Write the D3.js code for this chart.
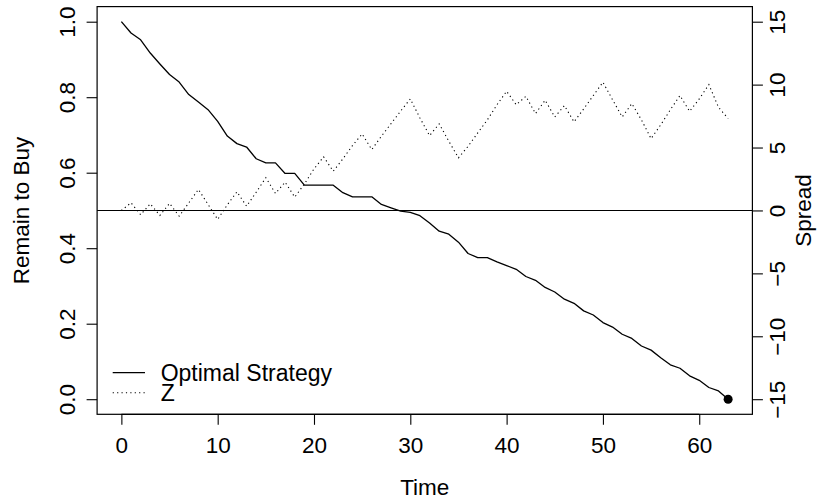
<!DOCTYPE html>
<html>
<head>
<meta charset="utf-8">
<script src="https://cdn.jsdelivr.net/npm/d3@7"></script>
<style>
  html, body { margin: 0; padding: 0; background: #fff; }
  svg text { font-family: "Liberation Sans", Arial, Helvetica, sans-serif; fill: #000; }
</style>
</head>
<body>
<svg id="chart" width="827" height="504"></svg>
<script>
// ---- data ----
const time = d3.range(0, 64);
const optimalStrategy = [
  1.000, 0.970, 0.952, 0.917, 0.888, 0.860, 0.840, 0.807, 0.787, 0.767,
  0.736, 0.697, 0.677, 0.668, 0.637, 0.626, 0.626, 0.598, 0.598, 0.567,
  0.567, 0.567, 0.567, 0.547, 0.536, 0.536, 0.536, 0.516, 0.507, 0.498,
  0.495, 0.486, 0.467, 0.445, 0.437, 0.416, 0.386, 0.375, 0.375, 0.364,
  0.354, 0.344, 0.325, 0.315, 0.296, 0.284, 0.265, 0.254, 0.234, 0.223,
  0.203, 0.191, 0.172, 0.161, 0.141, 0.130, 0.110, 0.091, 0.082, 0.062,
  0.050, 0.031, 0.022, 0.000
];
const spreadZ = [
  0.00, 0.61, -0.34, 0.53, -0.40, 0.56, -0.45, 0.60, 1.67, 0.48,
  -0.71, 0.45, 1.48, 0.34, 1.45, 2.60, 1.35, 2.25, 1.06, 2.10,
  3.30, 4.26, 3.12, 4.10, 5.16, 6.08, 4.84, 5.90, 6.90, 7.90,
  8.86, 7.35, 5.95, 6.88, 5.50, 4.18, 5.10, 6.16, 7.20, 8.40,
  9.47, 8.40, 9.07, 7.70, 8.76, 7.43, 8.33, 7.04, 8.07, 9.13,
  10.19, 8.80, 7.43, 8.49, 7.20, 5.71, 6.80, 8.00, 9.13, 7.88,
  8.86, 10.00, 8.20, 7.30
];
const endPoint = { t: 63, v: 0 };
const xTicks = [0, 10, 20, 30, 40, 50, 60];
const leftTicks = [0, 0.2, 0.4, 0.6, 0.8, 1.0];
const rightTicks = [-15, -10, -5, 0, 5, 10, 15];
const legendLabels = ["Optimal Strategy", "Z"];
const xTitle = "Time", leftTitle = "Remain to Buy", rightTitle = "Spread";

// ---- layout ----
const box = { left: 97.1, right: 752.4, top: 6.6, bottom: 414.3 };
const FS = 22.5;
const svg = d3.select("#chart");

const x = d3.scaleLinear().domain([-2.52, 65.52]).range([box.left, box.right]);
const yL = d3.scaleLinear().domain([-0.04, 1.04]).range([box.bottom, box.top]);
const yR = d3.scaleLinear().domain([-16.2, 16.2]).range([box.bottom, box.top]);

// zero line of Spread
svg.append("line")
  .attr("x1", box.left).attr("x2", box.right)
  .attr("y1", yR(0)).attr("y2", yR(0))
  .attr("stroke", "#000").attr("stroke-width", 1.1);

// Optimal strategy
svg.append("path")
  .datum(time.map((t, i) => [t, optimalStrategy[i]]))
  .attr("fill", "none").attr("stroke", "#000").attr("stroke-width", 1.3)
  .attr("stroke-linejoin", "round")
  .attr("d", d3.line().x(d => x(d[0])).y(d => yL(d[1])));

// Z spread (dotted)
svg.append("path")
  .datum(time.map((t, i) => [t, spreadZ[i]]))
  .attr("fill", "none").attr("stroke", "#000").attr("stroke-width", 1.1)
  .attr("stroke-dasharray", "1.2,3.2")
  .attr("d", d3.line().x(d => x(d[0])).y(d => yR(d[1])));

// end point
svg.append("circle")
  .attr("cx", x(endPoint.t)).attr("cy", yL(endPoint.v)).attr("r", 4.5)
  .attr("fill", "#000");

// box
svg.append("rect")
  .attr("x", box.left).attr("y", box.top)
  .attr("width", box.right - box.left).attr("height", box.bottom - box.top)
  .attr("fill", "none").attr("stroke", "#000").attr("stroke-width", 1.2);

// axes
function styleAxis(g) {
  g.select(".domain").remove();
  g.selectAll(".tick line").attr("stroke", "#000").attr("stroke-width", 1.1);
  g.selectAll(".tick text").attr("font-size", FS).attr("font-family", null);
}

const gx = svg.append("g").attr("transform", `translate(0,${box.bottom})`)
  .call(d3.axisBottom(x).tickValues(xTicks).tickSize(10.5).tickFormat(d3.format("d")));
styleAxis(gx);
gx.selectAll(".tick text").attr("y", 38.6).attr("dy", null);
gx.append("line").attr("x1", x(0)).attr("x2", x(60)).attr("stroke", "#000").attr("stroke-width", 1.2);

const gl = svg.append("g").attr("transform", `translate(${box.left},0)`)
  .call(d3.axisLeft(yL).tickValues(leftTicks).tickSize(10.5).tickFormat(d3.format(".1f")));
styleAxis(gl);
gl.selectAll(".tick text")
  .attr("x", null).attr("dy", null)
  .attr("text-anchor", "middle")
  .attr("transform", `translate(${74.5 - box.left},0) rotate(-90)`);

const gr = svg.append("g").attr("transform", `translate(${box.right},0)`)
  .call(d3.axisRight(yR).tickValues(rightTicks).tickSize(10.5)
    .tickFormat(d => (d < 0 ? "\u2212" + Math.abs(d) : String(d))));
styleAxis(gr);
gr.selectAll(".tick text")
  .attr("x", null).attr("dy", null)
  .attr("text-anchor", "middle")
  .attr("transform", `translate(${785 - box.right},0) rotate(-90)`);

// titles
svg.append("text").attr("x", (box.left + box.right) / 2).attr("y", 495)
  .attr("text-anchor", "middle").attr("font-size", FS).text(xTitle);
svg.append("text").attr("transform", `translate(28.5,${(box.top + box.bottom) / 2}) rotate(-90)`)
  .attr("text-anchor", "middle").attr("font-size", FS).text(leftTitle);
svg.append("text").attr("transform", `translate(810.5,${(box.top + box.bottom) / 2}) rotate(-90)`)
  .attr("text-anchor", "middle").attr("font-size", FS).text(rightTitle);

// legend
const legendStyles = [null, "1.2,3.2"];
const lg = svg.append("g");
legendLabels.forEach((lab, i) => {
  const yy = 372.7 + i * 20;
  lg.append("line").attr("x1", 112.7).attr("x2", 145).attr("y1", yy).attr("y2", yy)
    .attr("stroke", "#000").attr("stroke-width", i === 0 ? 1.3 : 1.1)
    .attr("stroke-dasharray", legendStyles[i]);
  lg.append("text").attr("x", 160.7).attr("y", yy + 8.7)
    .attr("font-size", 23).text(lab);
});
</script>
</body>
</html>
